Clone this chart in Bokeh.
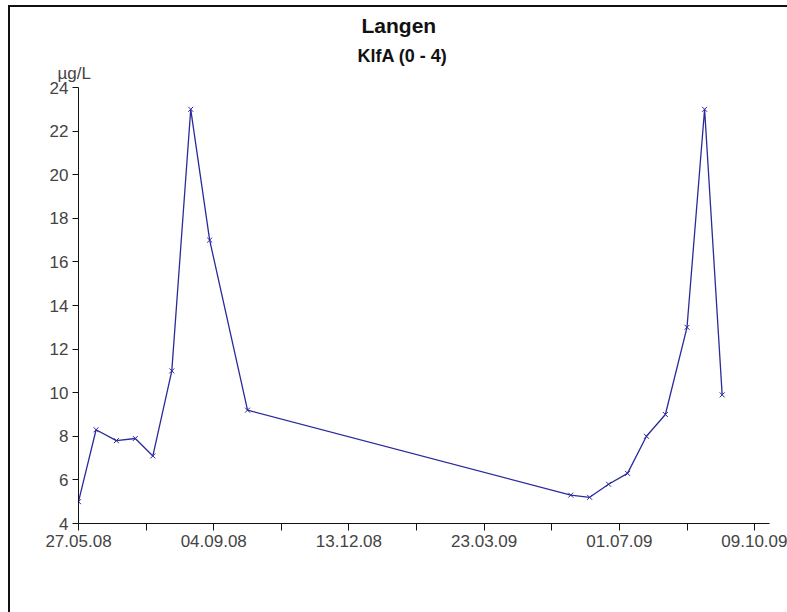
from datetime import datetime

import pandas as pd
from bokeh.embed import file_html
from bokeh.models import (ColumnDataSource, DatetimeTickFormatter, FixedTicker,
                          Range1d, Title)
from bokeh.plotting import figure
from bokeh.resources import INLINE

# Sampling dates and measured chlorophyll values (KlfA, 0-4 m) at Langen
dates = [
    "27.05.08", "09.06.08", "24.06.08", "08.07.08", "21.07.08", "04.08.08",
    "18.08.08", "01.09.08", "29.09.08", "26.05.09", "09.06.09", "23.06.09",
    "07.07.09", "21.07.09", "04.08.09", "20.08.09", "02.09.09", "15.09.09",
]
values = [5.0, 8.3, 7.8, 7.9, 7.1, 11.0, 23.0, 17.0, 9.2,
          5.3, 5.2, 5.8, 6.3, 8.0, 9.0, 13.0, 23.0, 9.9]

tick_labels = ["27.05.08", "04.09.08", "13.12.08", "23.03.09", "01.07.09", "09.10.09"]
x_start_label = "27.05.08"
x_end_label = "20.10.09"
y_start, y_end = 4, 24
y_tick_step = 2

title_text = "Langen"
subtitle_text = "KlfA (0 - 4)"
unit_text = "µg/L"


def parse(d):
    return datetime.strptime(d, "%d.%m.%y")


def ms(d):
    return pd.Timestamp(parse(d)).value / 1e6


src = ColumnDataSource(data=dict(x=[parse(d) for d in dates], y=values))

x0, x1 = ms(x_start_label), ms(x_end_label)

p = figure(
    width=787, height=612,
    title=None,
    x_axis_type="datetime",
    x_range=Range1d(x0, x1),
    y_range=Range1d(y_start, y_end),
    output_backend="svg",
    toolbar_location=None,
    min_border_left=78, min_border_right=18,
    min_border_top=87, min_border_bottom=89,
)
# frame lines along the top and left edge of the chart box
p.styles = {
    "background": ("linear-gradient(#111, #111) 8px 5px / 100% 2px no-repeat, "
                   "linear-gradient(#111, #111) 8px 5px / 2px 100% no-repeat"),
}
p.outline_line_color = None
p.grid.grid_line_color = None
p.background_fill_color = "white"
p.border_fill_alpha = 0

line_color = "#2a2a9c"
p.line("x", "y", source=src, line_color=line_color, line_width=1.3)
p.scatter("x", "y", source=src, marker="x", size=7,
          line_color=line_color, line_width=1)

# x axis: labelled ticks every 100 days, unlabelled ticks halfway between
major = [ms(t) for t in tick_labels]
minor = [(a + b) / 2 for a, b in zip(major[:-1], major[1:])]
xa = p.xaxis[0]
xa.ticker = FixedTicker(ticks=major, minor_ticks=minor)
fmt = "%d.%m.%y"
xa.formatter = DatetimeTickFormatter(
    milliseconds=fmt, seconds=fmt, minsec=fmt, minutes=fmt, hourmin=fmt,
    hours=fmt, days=fmt, months=fmt, years=fmt)
xa.major_tick_out = 7
xa.major_tick_in = 0
xa.minor_tick_out = 7
xa.minor_tick_in = 0
xa.major_label_standoff = 4

ya = p.yaxis[0]
ya.ticker = FixedTicker(ticks=list(range(y_start, y_end + 1, y_tick_step)),
                        minor_ticks=[])
ya.major_tick_out = 6
ya.major_tick_in = 0
ya.major_label_standoff = 4

for ax in (xa, ya):
    ax.axis_line_color = "#111111"
    ax.major_tick_line_color = "#111111"
    ax.minor_tick_line_color = "#111111"
    ax.major_label_text_font = "Liberation Sans"
    ax.major_label_text_font_size = "17px"
    ax.major_label_text_color = "#444444"

# header rows, stacked outward from the plotting area
p.add_layout(Title(text=unit_text, align="left", offset=-21, standoff=4.8,
                   vertical_align="top",
                   text_font="Liberation Sans", text_font_size="17px",
                   text_font_style="normal", text_color="#444444"), "above")
p.add_layout(Title(text=subtitle_text, align="left", offset=279, standoff=-9.6,
                   vertical_align="bottom",
                   text_font="Liberation Sans", text_font_size="18px",
                   text_font_style="bold", text_color="#111111"), "above")
p.add_layout(Title(text=title_text, align="left", offset=283, standoff=19.6,
                   vertical_align="top",
                   text_font="Liberation Sans", text_font_size="21px",
                   text_font_style="bold", text_color="#111111"), "above")

open("out.html", "w").write(file_html(p, INLINE))
